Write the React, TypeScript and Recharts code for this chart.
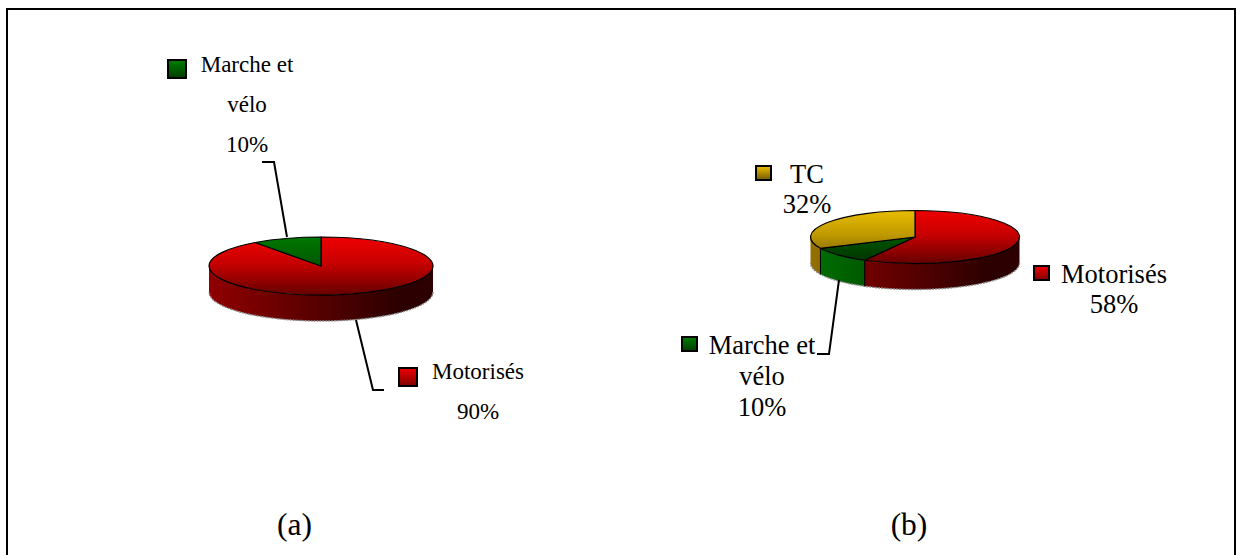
import React from "react";
import { PieChart, Pie } from "recharts";

// ---- data ----
const categoriesA = ["Motorisés", "Marche et vélo"];
const valuesA = [90, 10];
const categoriesB = ["Motorisés", "Marche et vélo", "TC"];
const valuesB = [58, 10, 32];
const panelLabels = ["(a)", "(b)"];

// ---- styles ----
const PALETTE: Record<string, { top: [string, string, string]; side: [string, string]; key: [string, string] }> = {
  "Motorisés": { top: ["#ee0000", "#c80000", "#660000"], side: ["#900000", "#2c0000"], key: ["#f00000", "#800000"] },
  "Marche et vélo": { top: ["#007800", "#005a00", "#003000"], side: ["#007000", "#002400"], key: ["#008000", "#003c00"] },
  "TC": { top: ["#e8bc00", "#c09a00", "#6e5800"], side: ["#947000", "#382a00"], key: ["#f0c000", "#705800"] },
};
const FONT = "'Liberation Serif', 'Times New Roman', serif";

type LabelLayout = {
  lines: string[];
  cx: number;
  baselines: number[];
  key: [number, number, number, number];
  leader: string;
};
const LAYOUT_A: Record<string, LabelLayout> = {
  "Motorisés": { lines: ["Motorisés"], cx: 478, baselines: [379, 419], key: [399, 368, 18, 18], leader: "356,320 373,390 384,390" },
  "Marche et vélo": { lines: ["Marche et", "vélo"], cx: 247, baselines: [72, 112, 152], key: [168, 60, 18, 18], leader: "262,162 274,162 287,237" },
};
const LAYOUT_B: Record<string, LabelLayout> = {
  "Motorisés": { lines: ["Motorisés"], cx: 1114, baselines: [283, 313], key: [1034, 266, 15, 14], leader: "" },
  "Marche et vélo": { lines: ["Marche et", "vélo"], cx: 762, baselines: [354, 385, 416], key: [682, 337, 15, 14], leader: "817,354 829,354 839,280" },
  "TC": { lines: ["TC"], cx: 807, baselines: [183, 213], key: [756, 166, 15, 14], leader: "" },
};

const rad = (d: number) => (d * Math.PI) / 180;

function makeShape(prefix: string, tilt: number, depth: number) {
  return function Shape3D(props: any) {
    const { cx, cy, outerRadius: rx, startAngle, endAngle, name, payload } = props;
    const label = name ?? payload?.name;
    const ry = rx * tilt;
    const a0 = Math.min(startAngle, endAngle);
    const a1 = Math.max(startAngle, endAngle);
    const pt = (deg: number, dy = 0) => [cx + rx * Math.cos(rad(deg)), cy - ry * Math.sin(rad(deg)) + dy];
    const p0 = pt(startAngle);
    const p1 = pt(endAngle);
    const large = a1 - a0 > 180 ? 1 : 0;
    const sweep = startAngle > endAngle ? 1 : 0;
    const top = `M${cx},${cy}L${p0[0]},${p0[1]}A${rx},${ry} 0 ${large} ${sweep} ${p1[0]},${p1[1]}Z`;

    // front-facing wall: portions of the slice between 180..360 (mod 360)
    const walls: [number, number][] = [];
    for (const k of [-720, -360, 0, 360]) {
      const s = Math.max(a0, 180 + k);
      const e = Math.min(a1, 360 + k);
      if (e > s) walls.push([s, e]);
    }
    const pal = PALETTE[label];
    const id = `${prefix}-${label.replace(/\s|é/g, "")}`;
    return (
      <g>
        <defs>
          <linearGradient id={`${id}-t`} gradientUnits="userSpaceOnUse" x1={0} x2={0} y1={cy - ry} y2={cy + ry}>
            <stop offset="0" stopColor={pal.top[0]} />
            <stop offset="0.45" stopColor={pal.top[1]} />
            <stop offset="1" stopColor={pal.top[2]} />
          </linearGradient>
          <linearGradient id={`${id}-s`} gradientUnits="userSpaceOnUse" x1={cx - rx} x2={cx + rx * 0.7} y1={0} y2={0}>
            <stop offset="0" stopColor={pal.side[0]} />
            <stop offset="1" stopColor={pal.side[1]} />
          </linearGradient>
        </defs>
        {walls.map(([s, e], i) => {
          const a = pt(s);
          const b = pt(e);
          const d = `M${a[0]},${a[1]}A${rx},${ry} 0 0 0 ${b[0]},${b[1]}L${b[0]},${b[1] + depth}A${rx},${ry} 0 0 1 ${a[0]},${a[1] + depth}Z`;
          const bottom = `M${b[0]},${b[1] + depth}A${rx},${ry} 0 0 1 ${a[0]},${a[1] + depth}`;
          const edges: string[] = [];
          if (s === a0 && ((s % 360) + 360) % 360 !== 180) edges.push(`M${a[0]},${a[1]}V${a[1] + depth}`);
          if (e === a1 && ((e % 360) + 360) % 360 !== 0) edges.push(`M${b[0]},${b[1]}V${b[1] + depth}`);
          return (
            <g key={i}>
              <path d={d} fill={`url(#${id}-s)`} stroke="none" />
              <path d={bottom} fill="none" stroke="#8a8a8a" strokeWidth={1.4} strokeDasharray="2 1" />
              {edges.map((ed, j) => (
                <path key={j} d={ed} stroke="#000" strokeWidth={1} fill="none" />
              ))}
            </g>
          );
        })}
        <path d={top} fill={`url(#${id}-t)`} stroke="#000" strokeWidth={1.2} strokeLinejoin="round" />
      </g>
    );
  };
}

function makeLabel(prefix: string, layouts: Record<string, LabelLayout>, fontSize: number) {
  return function SliceLabel(props: any) {
    const label = props.name ?? props.payload?.name;
    const value = props.value ?? props.payload?.value;
    const l = layouts[label];
    const pal = PALETTE[label];
    const id = `${prefix}-key-${props.index}`;
    const lines = [...l.lines, `${value}%`];
    return (
      <g>
        <defs>
          <linearGradient id={id} x1="0" x2="0" y1="0" y2="1">
            <stop offset="0" stopColor={pal.key[0]} />
            <stop offset="1" stopColor={pal.key[1]} />
          </linearGradient>
        </defs>
        {l.leader && <polyline points={l.leader} fill="none" stroke="#000" strokeWidth={2} />}
        <rect x={l.key[0]} y={l.key[1]} width={l.key[2]} height={l.key[3]} fill={`url(#${id})`} stroke="#000" strokeWidth={2} />
        {lines.map((t, i) => (
          <text key={i} x={l.cx} y={l.baselines[i]} textAnchor="middle" fontFamily={FONT} fontSize={fontSize} fill="#000">
            {t}
          </text>
        ))}
      </g>
    );
  };
}

const dataA = categoriesA.map((name, i) => ({ name, value: valuesA[i] }));
const dataB = categoriesB.map((name, i) => ({ name, value: valuesB[i] }));
const ShapeA = makeShape("a", 0.259, 26);
const ShapeB = makeShape("b", 0.2536, 26);
const LabelA = makeLabel("a", LAYOUT_A, 23);
const LabelB = makeLabel("b", LAYOUT_B, 26.5);

export default function App() {
  return (
    <div style={{ position: "absolute", left: 0, top: 0, width: 1236, height: 555, background: "#fff", overflow: "hidden" }}>
      <div
        style={{
          position: "absolute",
          left: 6,
          top: 8,
          width: 1226,
          height: 560,
          borderTop: "2px solid #000",
          borderLeft: "2px solid #000",
          borderRight: "2px solid #000",
        }}
      />
      <div style={{ position: "absolute", left: 0, top: 0 }}>
        <PieChart width={1236} height={555} margin={{ top: 0, right: 0, bottom: 0, left: 0 }}>
          <Pie
            data={dataA}
            dataKey="value"
            nameKey="name"
            cx={321}
            cy={266}
            outerRadius={112}
            startAngle={90}
            endAngle={-270}
            isAnimationActive={false}
            shape={ShapeA}
            label={LabelA}
            labelLine={false}
            stroke="none"
          />
          <Pie
            data={dataB}
            dataKey="value"
            nameKey="name"
            cx={915}
            cy={237}
            outerRadius={104.5}
            startAngle={90}
            endAngle={-270}
            isAnimationActive={false}
            shape={ShapeB}
            label={LabelB}
            labelLine={false}
            stroke="none"
          />
          <text x={294.5} y={535} textAnchor="middle" fontFamily={FONT} fontSize={31.5} fill="#000">{panelLabels[0]}</text>
          <text x={909} y={535} textAnchor="middle" fontFamily={FONT} fontSize={31.5} fill="#000">{panelLabels[1]}</text>
        </PieChart>
      </div>
    </div>
  );
}
